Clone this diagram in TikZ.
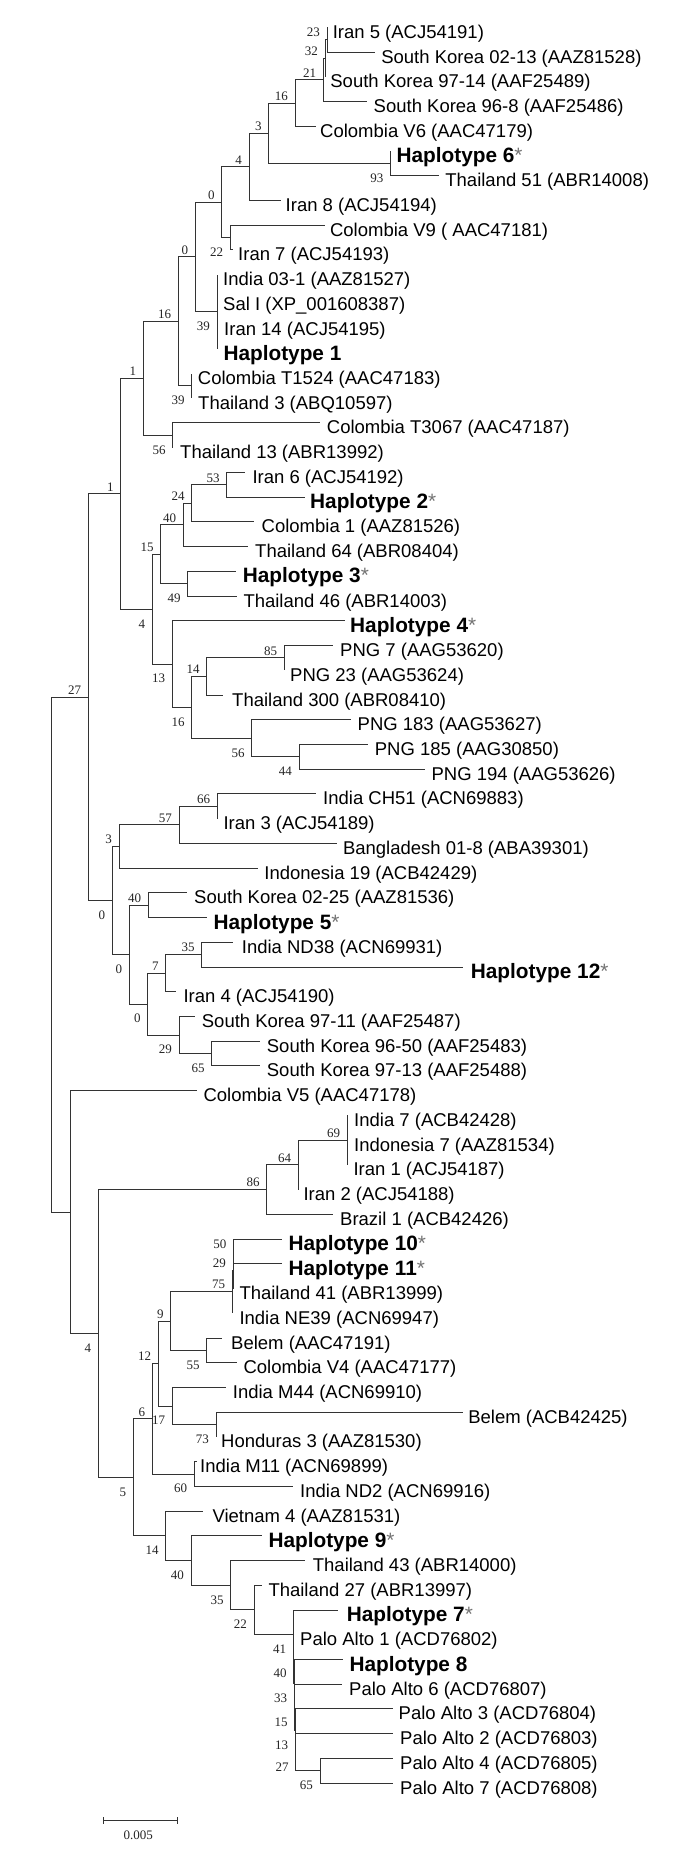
\documentclass[tikz,border=0pt]{standalone}
\usepackage{fontspec}
\setmainfont{Liberation Sans}
\newfontfamily\tms{Liberation Serif}
\usetikzlibrary{calc}
\tikzset{
  br/.style={draw=black!80, line width=1pt},
  lf/.style={font=\fontsize{18.5}{20}\selectfont, inner sep=0pt, anchor=base west},
  hp/.style={font=\fontsize{20.8}{22}\selectfont\bfseries, inner sep=0pt, anchor=base west},
  bs/.style={font=\tms\fontsize{13}{14}\selectfont, inner sep=0pt, text=black!85},
}
\newcommand\hstar{{\mdseries\color{black!55}*}}
\newcommand\leafn[5]{\coordinate (#1) at (#2,#3);\node[lf] (t#1) at (#4,{#3+11}) {#5};}
\newcommand\hleaf[5]{\coordinate (#1) at (#2,#3);\node[hp] (t#1) at (#4,{#3+11.5}) {#5};}
\newcommand\kids[2]{\foreach \c in {#2} {\draw[br] (#1) |- (\c);}}
\newcommand\bsu[2]{\node[bs,anchor=east] (b#1) at ([xshift=-7pt,yshift=7pt]#1) {#2};}
\newcommand\bsd[2]{\node[bs,anchor=east] (b#1) at ([xshift=-7pt,yshift=-14.5pt]#1) {#2};}
\begin{document}
\begin{tikzpicture}[x=1pt,y=-1pt]
\fill[white] (0,0) rectangle (685,1854);
\useasboundingbox (0,0) rectangle (685,1854);
% leaves
\leafn{L1}{327.1}{27.30}{332.6}{Iran 5 (ACJ54191)}
\leafn{L2}{375.3}{52.03}{381.1}{South Korea 02-13 (AAZ81528)}
\leafn{L3}{325.1}{76.76}{330.2}{South Korea 97-14 (AAF25489)}
\leafn{L4}{367}{101.49}{373.5}{South Korea 96-8 (AAF25486)}
\leafn{L5}{315.5}{126.22}{320}{Colombia V6 (AAC47179)}
\hleaf{L6}{390.6}{150.95}{396.4}{Haplotype 6\hstar}
\leafn{L7}{439.4}{175.68}{445.2}{Thailand 51 (ABR14008)}
\leafn{L8}{280.7}{200.41}{285.5}{Iran 8 (ACJ54194)}
\leafn{L9}{324.7}{225.14}{329.9}{Colombia V9 ( AAC47181)}
\leafn{L10}{233}{249.87}{238}{Iran 7 (ACJ54193)}
\leafn{L11}{217}{274.60}{223}{India 03-1 (AAZ81527)}
\leafn{L12}{217}{299.33}{223}{Sal I (XP\_001608387)}
\leafn{L13}{217}{324.06}{224}{Iran 14 (ACJ54195)}
\hleaf{L14}{217}{348.79}{223.3}{Haplotype 1}
\leafn{L15}{191.7}{373.52}{197.7}{Colombia T1524 (AAC47183)}
\leafn{L16}{191.7}{398.25}{198}{Thailand 3 (ABQ10597)}
\leafn{L17}{320}{422.98}{326.7}{Colombia T3067 (AAC47187)}
\leafn{L18}{172.7}{447.71}{180}{Thailand 13 (ABR13992)}
\leafn{L19}{245}{472.44}{252.3}{Iran 6 (ACJ54192)}
\hleaf{L20}{304.5}{497.17}{310}{Haplotype 2\hstar}
\leafn{L21}{254}{521.90}{261.5}{Colombia 1 (AAZ81526)}
\leafn{L22}{248}{546.63}{255}{Thailand 64 (ABR08404)}
\hleaf{L23}{236}{571.36}{242.7}{Haplotype 3\hstar}
\leafn{L24}{236.5}{596.09}{243.3}{Thailand 46 (ABR14003)}
\hleaf{L25}{345}{620.82}{350}{Haplotype 4\hstar}
\leafn{L26}{333.3}{645.55}{340}{PNG 7 (AAG53620)}
\leafn{L27}{284.3}{670.28}{290}{PNG 23 (AAG53624)}
\leafn{L28}{223}{695.01}{232}{Thailand 300 (ABR08410)}
\leafn{L29}{351}{719.74}{357.5}{PNG 183 (AAG53627)}
\leafn{L30}{367.7}{744.47}{374.7}{PNG 185 (AAG30850)}
\leafn{L31}{424.5}{769.20}{431.4}{PNG 194 (AAG53626)}
\leafn{L32}{315.7}{793.93}{323}{India CH51 (ACN69883)}
\leafn{L33}{217.3}{818.66}{223.3}{Iran 3 (ACJ54189)}
\leafn{L34}{336.7}{843.39}{342.8}{Bangladesh 01-8 (ABA39301)}
\leafn{L35}{258.3}{868.12}{264.2}{Indonesia 19 (ACB42429)}
\leafn{L36}{186.7}{892.85}{194}{South Korea 02-25 (AAZ81536)}
\hleaf{L37}{206.7}{917.58}{213.3}{Haplotype 5\hstar}
\leafn{L38}{233.3}{942.31}{241.7}{India ND38 (ACN69931)}
\hleaf{L39}{463.3}{967.04}{470.7}{Haplotype 12\hstar}
\leafn{L40}{175.7}{991.77}{183.3}{Iran 4 (ACJ54190)}
\leafn{L41}{195}{1016.50}{201.7}{South Korea 97-11 (AAF25487)}
\leafn{L42}{260}{1041.23}{266.7}{South Korea 96-50 (AAF25483)}
\leafn{L43}{260}{1065.96}{266.7}{South Korea 97-13 (AAF25488)}
\leafn{L44}{196.7}{1090.69}{203.3}{Colombia V5 (AAC47178)}
\leafn{L45}{347.3}{1115.42}{354}{India 7 (ACB42428)}
\leafn{L46}{347.3}{1140.15}{354}{Indonesia 7 (AAZ81534)}
\leafn{L47}{347.3}{1164.88}{353.3}{Iran 1 (ACJ54187)}
\leafn{L48}{298.3}{1189.61}{303.3}{Iran 2 (ACJ54188)}
\leafn{L49}{333.3}{1214.34}{340}{Brazil 1 (ACB42426)}
\hleaf{L50}{281.7}{1239.07}{288.3}{Haplotype 10\hstar}
\hleaf{L51}{281.7}{1263.80}{288.3}{Haplotype 11\hstar}
\leafn{L52}{233}{1288.53}{239.3}{Thailand 41 (ABR13999)}
\leafn{L53}{232.3}{1313.26}{239.3}{India NE39 (ACN69947)}
\leafn{L54}{221.7}{1337.99}{231}{Belem (AAC47191)}
\leafn{L55}{236.7}{1362.72}{243.3}{Colombia V4 (AAC47177)}
\leafn{L56}{225.7}{1387.45}{232.7}{India M44 (ACN69910)}
\leafn{L57}{462.9}{1412.18}{468.1}{Belem (ACB42425)}
\leafn{L58}{216}{1436.91}{221}{Honduras 3 (AAZ81530)}
\leafn{L59}{196.7}{1461.64}{200}{India M11 (ACN69899)}
\leafn{L60}{293.3}{1486.37}{300}{India ND2 (ACN69916)}
\leafn{L61}{203.3}{1511.10}{212.3}{Vietnam 4 (AAZ81531)}
\hleaf{L62}{261.7}{1535.83}{268.3}{Haplotype 9\hstar}
\leafn{L63}{305}{1560.56}{312.7}{Thailand 43 (ABR14000)}
\leafn{L64}{261.7}{1585.29}{268.3}{Thailand 27 (ABR13997)}
\hleaf{L65}{338.3}{1610.02}{346.7}{Haplotype 7\hstar}
\leafn{L66}{293.8}{1634.75}{300}{Palo Alto 1 (ACD76802)}
\hleaf{L67}{343.3}{1659.48}{349.3}{Haplotype 8}
\leafn{L68}{341.7}{1684.21}{349}{Palo Alto 6 (ACD76807)}
\leafn{L69}{393.3}{1708.94}{398.5}{Palo Alto 3 (ACD76804)}
\leafn{L70}{393.3}{1733.67}{400}{Palo Alto 2 (ACD76803)}
\leafn{L71}{393.3}{1758.40}{400}{Palo Alto 4 (ACD76805)}
\leafn{L72}{393.3}{1783.13}{400}{Palo Alto 7 (ACD76808)}
% internal nodes
\coordinate (root) at (51.7,954.63);
\coordinate (n27) at (88.3,697.19);
\coordinate (nX) at (70.7,1212.07);
\coordinate (n1b) at (120.7,493.80);
\coordinate (n0c) at (112.3,900.58);
\coordinate (n1a) at (143.3,378.37);
\coordinate (n4b) at (152.3,609.23);
\coordinate (n16b) at (178.3,321.40);
\coordinate (n56) at (172.7,435.35);
\coordinate (n0b) at (195.4,256.92);
\coordinate (n39b) at (191.7,385.89);
\coordinate (n0a) at (221.7,202.15);
\coordinate (n39) at (217,311.70);
\coordinate (n4) at (249,166.80);
\coordinate (n22) at (230.2,237.51);
\coordinate (n3) at (268.8,133.18);
\coordinate (n16) at (295,103.04);
\coordinate (n93) at (390.6,163.32);
\coordinate (n21) at (323.4,79.85);
\coordinate (n32) at (325.1,58.21);
\coordinate (n23) at (327.1,39.67);
\coordinate (n15) at (160.7,554.36);
\coordinate (n40) at (183.3,524.99);
\coordinate (n24) at (191.7,503.35);
\coordinate (n53) at (226.7,484.81);
\coordinate (n49) at (187.7,583.73);
\coordinate (n13) at (172.3,664.10);
\coordinate (n16c) at (191.7,707.37);
\coordinate (n14) at (206.7,676.46);
\coordinate (n85) at (284.3,657.92);
\coordinate (n56b) at (251.7,738.29);
\coordinate (n44) at (299,756.84);
\coordinate (n3b) at (119,846.48);
\coordinate (n57) at (179,824.84);
\coordinate (n66) at (217.3,806.30);
\coordinate (n0d) at (129.3,954.68);
\coordinate (n40b) at (148.3,905.22);
\coordinate (n0e) at (147.7,1004.14);
\coordinate (n7) at (165.7,973.22);
\coordinate (n35) at (201.7,954.68);
\coordinate (n29) at (179,1035.05);
\coordinate (n65) at (211.7,1053.60);
\coordinate (n4c) at (98.3,1333.45);
\coordinate (n86) at (266.7,1189.61);
\coordinate (n64) at (298.3,1164.88);
\coordinate (n69) at (347.3,1140.15);
\coordinate (n5) at (133.3,1477.29);
\coordinate (n6) at (152.3,1418.75);
\coordinate (n12) at (158.3,1363.50);
\coordinate (n9) at (170.7,1320.99);
\coordinate (n75) at (232.3,1291.63);
\coordinate (n29c) at (233,1269.99);
\coordinate (n50) at (233.5,1251.44);
\coordinate (n55) at (206.7,1350.36);
\coordinate (n17) at (172.3,1406.00);
\coordinate (n73) at (216,1424.55);
\coordinate (n60) at (194.3,1474.01);
\coordinate (n14b) at (165.7,1535.82);
\coordinate (n40c) at (191,1560.54);
\coordinate (n35c) at (230.7,1585.25);
\coordinate (n22c) at (254,1609.93);
\coordinate (n41) at (293.3,1634.56);
\coordinate (nB) at (293.8,1659.10);
\coordinate (nC) at (294.3,1683.44);
\coordinate (nD) at (294.8,1707.40);
\coordinate (nE) at (295.3,1730.58);
\coordinate (nF) at (295.7,1752.22);
\coordinate (n65c) at (320,1770.77);
% branches
\kids{root}{n27,nX}
\kids{n27}{n1b,n0c}
\kids{n1b}{n1a,n4b}
\kids{n1a}{n16b,n56}
\kids{n16b}{n0b,n39b}
\kids{n0b}{n0a,n39}
\kids{n0a}{n4,n22}
\kids{n4}{n3,L8}
\kids{n3}{n16,n93}
\kids{n16}{n21,L5}
\kids{n21}{n32,L4}
\kids{n32}{n23,L3}
\kids{n23}{L1,L2}
\kids{n93}{L6,L7}
\kids{n22}{L9,L10}
\kids{n39}{L11,L12,L13,L14}
\kids{n39b}{L15,L16}
\kids{n56}{L17,L18}
\kids{n4b}{n15,n13}
\kids{n15}{n40,n49}
\kids{n40}{n24,L22}
\kids{n24}{n53,L21}
\kids{n53}{L19,L20}
\kids{n49}{L23,L24}
\kids{n13}{L25,n16c}
\kids{n16c}{n14,n56b}
\kids{n14}{n85,L28}
\kids{n85}{L26,L27}
\kids{n56b}{L29,n44}
\kids{n44}{L30,L31}
\kids{n0c}{n3b,n0d}
\kids{n3b}{n57,L35}
\kids{n57}{n66,L34}
\kids{n66}{L32,L33}
\kids{n0d}{n40b,n0e}
\kids{n40b}{L36,L37}
\kids{n0e}{n7,n29}
\kids{n7}{n35,L40}
\kids{n35}{L38,L39}
\kids{n29}{L41,n65}
\kids{n65}{L42,L43}
\kids{nX}{L44,n4c}
\kids{n4c}{n86,n5}
\kids{n86}{n64,L49}
\kids{n64}{n69,L48}
\kids{n69}{L45,L46,L47}
\kids{n5}{n6,n14b}
\kids{n6}{n12,n60}
\kids{n12}{n9,n17}
\kids{n9}{n75,n55}
\kids{n75}{n29c,L53}
\kids{n29c}{n50,L52}
\kids{n50}{L50,L51}
\kids{n55}{L54,L55}
\kids{n17}{L56,n73}
\kids{n73}{L57,L58}
\kids{n60}{L59,L60}
\kids{n14b}{L61,n40c}
\kids{n40c}{L62,n35c}
\kids{n35c}{L63,n22c}
\kids{n22c}{L64,n41}
\kids{n41}{L65,nB}
\kids{nB}{L66,nC}
\kids{nC}{L67,nD}
\kids{nD}{L68,nE}
\kids{nE}{L69,nF}
\kids{nF}{L70,n65c}
\kids{n65c}{L71,L72}
% bootstrap values
\bsu{n27}{27}\bsu{n1b}{1}\bsu{n1a}{1}\bsu{n16b}{16}\bsu{n0b}{0}\bsu{n0a}{0}
\bsu{n4}{4}\bsu{n3}{3}\bsu{n16}{16}\bsu{n21}{21}\bsu{n32}{32}\bsu{n23}{23}
\bsu{n15}{15}\bsu{n40}{40}\bsu{n24}{24}\bsu{n53}{53}\bsu{n14}{14}\bsu{n85}{85}
\bsu{n3b}{3}\bsu{n57}{57}\bsu{n66}{66}\bsu{n40b}{40}\bsu{n7}{7}\bsu{n35}{35}
\bsu{n86}{86}\bsu{n64}{64}\bsu{n69}{69}\bsu{n6}{6}\bsu{n12}{12}\bsu{n9}{9}
\bsu{n75}{75}\bsu{n29c}{29}\bsu{n50}{50}
\bsd{n93}{93}\bsd{n22}{22}\bsd{n39}{39}\bsd{n39b}{39}\bsd{n56}{56}\bsd{n4b}{4}
\bsd{n49}{49}\bsd{n13}{13}\bsd{n16c}{16}\bsd{n56b}{56}\bsd{n44}{44}\bsd{n0c}{0}
\bsd{n0d}{0}\bsd{n0e}{0}\bsd{n29}{29}\bsd{n65}{65}\bsd{n4c}{4}\bsd{n5}{5}
\bsd{n55}{55}\bsd{n17}{17}\bsd{n73}{73}\bsd{n60}{60}\bsd{n14b}{14}\bsd{n40c}{40}
\bsd{n35c}{35}\bsd{n22c}{22}\bsd{n41}{41}\bsd{nB}{40}\bsd{nC}{33}\bsd{nD}{15}
\bsd{nE}{13}\bsd{nF}{27}\bsd{n65c}{65}
% scale bar
\coordinate (sb1) at (103.3,1820.7);
\coordinate (sb2) at (177.7,1820.7);
\draw[br] (sb1) -- (sb2);
\draw[br] ([yshift=3.3pt]sb1) -- ([yshift=-3.3pt]sb1);
\draw[br] ([yshift=3.3pt]sb2) -- ([yshift=-3.3pt]sb2);
\node[bs] (sbl) at (138.3,1835.7) {0.005};
\end{tikzpicture}
\end{document}
